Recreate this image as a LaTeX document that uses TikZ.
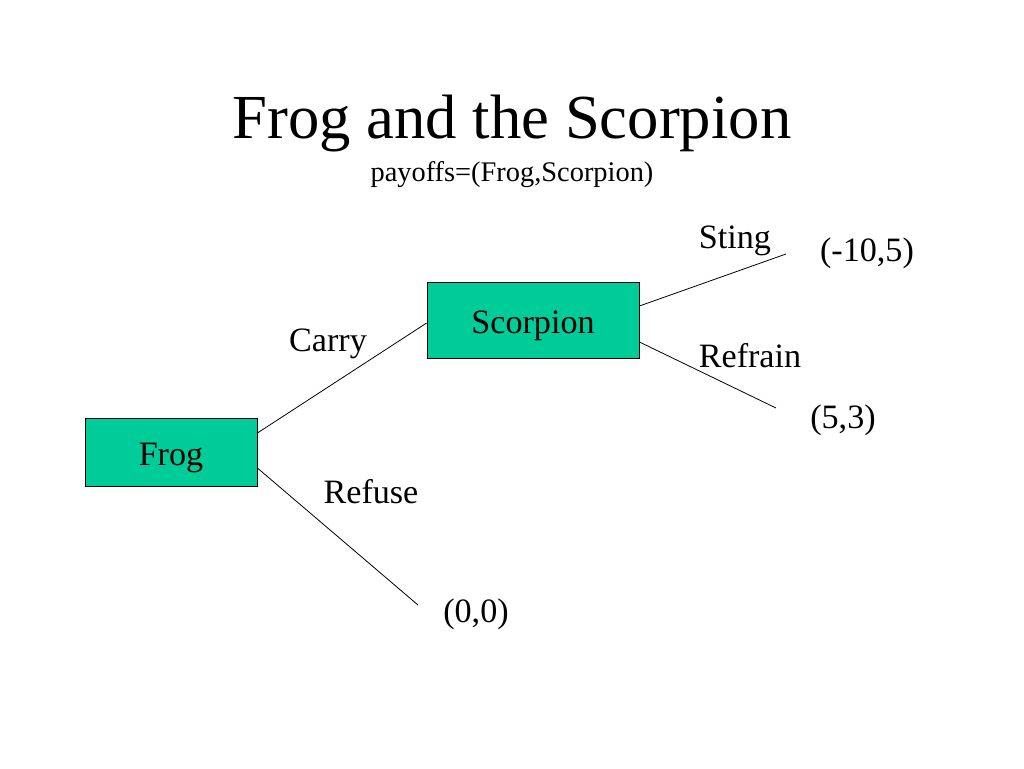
\documentclass[tikz,border=0pt]{standalone}
\usepackage{fontspec}
\setmainfont{Liberation Serif}
\definecolor{boxfill}{HTML}{00CC99}
\begin{document}
\begin{tikzpicture}[x=0.75pt,y=-0.75pt,
  box/.style={draw=black, line width=0.6pt, fill=boxfill, inner sep=0pt,
    text height=19.5pt, text depth=0pt, font=\fontsize{25.6pt}{30pt}\selectfont},
  lbl/.style={font=\fontsize{25.6pt}{30pt}\selectfont, anchor=base, inner sep=0pt},
  edge/.style={line width=0.6pt}]
\useasboundingbox (0,0) rectangle (1024,768);
\node[lbl, font=\fontsize{47pt}{54pt}\selectfont] (title) at (512,138) {Frog and the Scorpion};
\node[lbl, font=\fontsize{21.3pt}{25pt}\selectfont] (sub) at (512,181) {payoffs=(Frog,Scorpion)};
\node[box, minimum width=172*0.75pt, minimum height=68*0.75pt] (frog) at (171,452) {Frog};
\node[box, minimum width=212*0.75pt, minimum height=76*0.75pt] (scorp) at (533,320) {Scorpion};
\coordinate (e1) at (418,605);
\coordinate (e2) at (786,254);
\coordinate (e3) at (776,408);
\draw[edge] (frog.east |- 0,433) -- (scorp.west |- 0,323);
\draw[edge] (frog.east |- 0,468) -- (e1);
\draw[edge] (scorp.east |- 0,306) -- (e2);
\draw[edge] (scorp.east |- 0,342) -- (e3);
\node[lbl] (carry) at (328,351) {Carry};
\node[lbl] (refuse) at (371,503) {Refuse};
\node[lbl] (sting) at (735,248) {Sting};
\node[lbl] (refrain) at (750,367) {Refrain};
\node[lbl] (p1) at (867,261) {(-10,5)};
\node[lbl] (p2) at (843,428) {(5,3)};
\node[lbl] (p3) at (476,622) {(0,0)};
\end{tikzpicture}
\end{document}
